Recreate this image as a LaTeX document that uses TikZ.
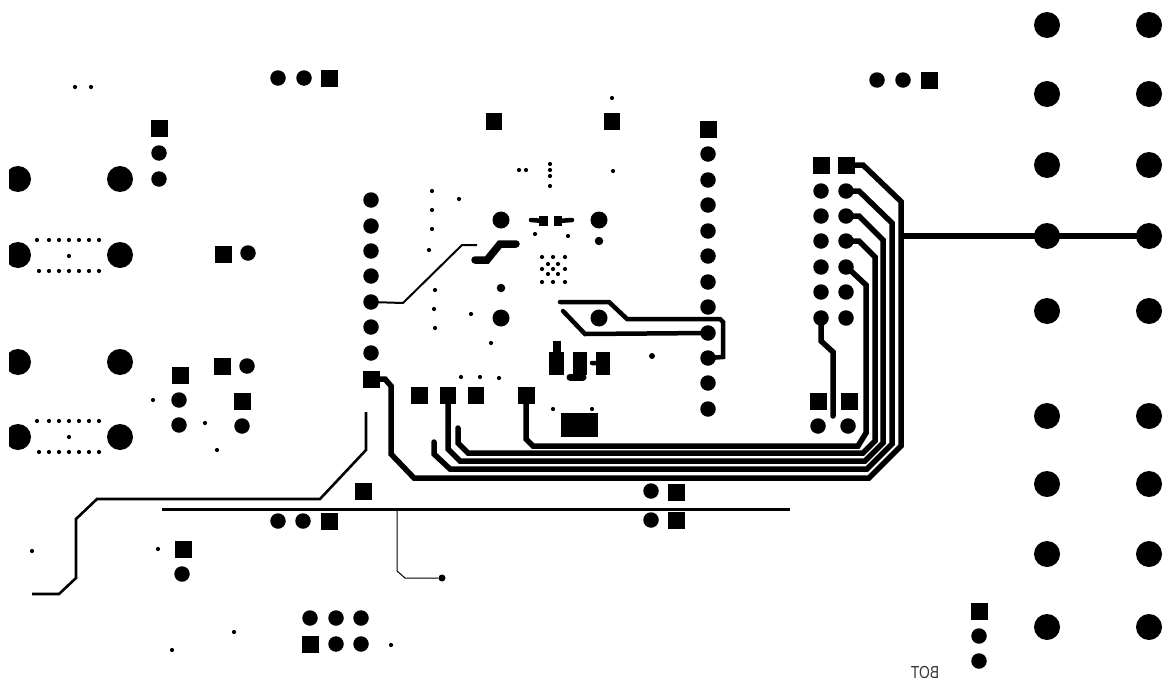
\documentclass[tikz,border=0pt]{standalone}
\usepackage{fontspec}
\setmainfont{Liberation Sans}
\tikzset{
  bigpad/.style={circle,fill=black,inner sep=0pt,minimum size=26pt},
  midpad/.style={circle,fill=black,inner sep=0pt,minimum size=17pt},
  pad/.style={circle,fill=black,inner sep=0pt,minimum size=15.5pt},
  sqpad/.style={rectangle,fill=black,inner sep=0pt,minimum size=17pt},
  hole/.style={circle,fill=black,inner sep=0pt,minimum size=4.2pt},
  blockpad/.style={rectangle,fill=black,inner sep=0pt},
  trace/.style={line width=5.5pt,line join=miter,line cap=round},
}
\begin{document}
\begin{tikzpicture}[x=1pt,y=-1pt]
\useasboundingbox (0,0) rectangle (1165,680);
\clip (9,0) rectangle (1165,680);

\foreach \y [count=\i] in {25,94,165,236,311,416,484,554,627} {
  \node[bigpad] (Ra\i) at (1047,\y) {};
  \node[bigpad] (Rb\i) at (1149,\y) {};
}
\foreach \y [count=\i] in {179,255,362,437} {
  \node[bigpad] (La\i) at (18,\y) {};
  \node[bigpad] (Lb\i) at (120,\y) {};
}

\foreach \y [count=\i] in {200,226,251,276,302,327,353} \node[pad] (CL\i) at (371,\y) {};
\node[sqpad] (CL8) at (371,379) {};
\node[sqpad] (CR0) at (708,129) {};
\foreach \y [count=\i] in {154,180,205,231,256,282,307,333,358,383,409} \node[pad] (CR\i) at (708,\y) {};

\node[sqpad] (Ka) at (846,165) {};
\node[sqpad] (Kb) at (821,165) {};
\foreach \y [count=\i] in {191,216,241,267,292,318} {
  \node[pad] (Ja\i) at (846,\y) {};
  \node[pad] (Jb\i) at (821,\y) {};
}
\node[sqpad] (Ma) at (818,401) {};
\node[sqpad] (Mb) at (849,401) {};
\node[pad] (Mc) at (818,426) {};
\node[pad] (Md) at (848,426) {};

\node[sqpad] (A1) at (329,78) {};
\node[pad] (A2) at (304,78) {};
\node[pad] (A3) at (278,78) {};
\node[sqpad] (B1) at (929,80) {};
\node[pad] (B2) at (903,80) {};
\node[pad] (B3) at (877,80) {};
\node[sqpad] (C1) at (159,128) {};
\node[pad] (C2) at (159,153) {};
\node[pad] (C3) at (159,179) {};
\node[sqpad] (D1) at (223,254) {};
\node[pad] (D2) at (248,253) {};
\node[sqpad] (E1) at (222,366) {};
\node[pad] (E2) at (247,366) {};
\node[sqpad] (F1) at (180,375) {};
\node[pad] (F2) at (179,400) {};
\node[pad] (F3) at (179,425) {};
\node[sqpad] (G1) at (242,401) {};
\node[pad] (G2) at (242,426) {};
\node[sqpad] (H1) at (363,491) {};
\node[sqpad] (I1) at (329,521) {};
\node[pad] (I2) at (303,521) {};
\node[pad] (I3) at (278,521) {};
\node[sqpad] (N1) at (183,549) {};
\node[pad] (N2) at (182,574) {};
\node[sqpad] (O1) at (676,492) {};
\node[pad] (O2) at (651,491) {};
\node[sqpad] (O3) at (676,520) {};
\node[pad] (O4) at (651,520) {};
\node[pad] (P1) at (310,618) {};
\node[pad] (P2) at (336,618) {};
\node[pad] (P3) at (361,618) {};
\node[sqpad] (P4) at (310,644) {};
\node[pad] (P5) at (336,644) {};
\node[pad] (P6) at (361,644) {};
\node[sqpad] (Q1) at (979,611) {};
\node[pad] (Q2) at (979,636) {};
\node[pad] (Q3) at (979,661) {};

\node[sqpad,minimum width=16pt] (T1) at (494,121) {};
\node[sqpad,minimum width=16pt] (T2) at (612,121) {};
\node[sqpad] (S1) at (419,395) {};
\node[sqpad,minimum width=16pt] (S2) at (448,395) {};
\node[sqpad,minimum width=16pt] (S3) at (476,395) {};
\node[sqpad] (S4) at (526,395) {};

\node[midpad] (U1) at (501,220) {};
\node[midpad] (U2) at (599,220) {};
\node[midpad] (U3) at (501,318) {};
\node[midpad] (U4) at (599,318) {};
\node[circle,fill=black,inner sep=0pt,minimum size=8.5pt] (U5) at (599,241) {};
\node[circle,fill=black,inner sep=0pt,minimum size=8.5pt] (U6) at (501,288) {};
\node[circle,fill=black,inner sep=0pt,minimum size=6pt] (U7) at (652,356) {};

\node[blockpad,minimum width=37pt,minimum height=24pt] (W1) at (579.5,425) {};
\node[blockpad,minimum width=9pt,minimum height=10pt] (W2) at (543.5,221) {};
\node[blockpad,minimum width=8pt,minimum height=10pt] (W3) at (558,221) {};
\node[blockpad,minimum width=15pt,minimum height=23pt] (W4) at (556.5,363.5) {};
\node[blockpad,minimum width=8pt,minimum height=12pt] (W5) at (557,347) {};
\node[blockpad,minimum width=14pt,minimum height=23pt] (W6) at (580,363.5) {};
\node[blockpad,minimum width=14pt,minimum height=23pt] (W7) at (603,363.5) {};

\foreach \x/\y [count=\i] in {
  75/87,91/87,612/98,519/170,526/170,550/164,550/170,550/176,550/186,613/171,
  432/191,459/199,432/210,432/229,429/250,535/234,568/236,
  542/257,553/257,565/257,548/264,558/264,542/269,553/269,565/269,548/274,558/274,542/282,553/282,565/282,
  435/290,434/309,435/328,471/314,491/343,461/377,480/377,499/378,553/409,592/409,
  153/400,205/423,217/450,32/551,158/549,172/650,234/632,391/645,
  37/240,49/240,59/240,69/240,79/240,89/240,99/240,39/271,49/271,59/271,69/271,79/271,89/271,99/271,69/256,
  37/421,49/421,59/421,69/421,79/421,89/421,99/421,39/452,49/452,59/452,69/452,79/452,89/452,99/452,69/437
} \node[hole] (v\i) at (\x,\y) {};

\coordinate (tThin) at (477,245);
\coordinate (tFatA) at (475,260);
\coordinate (tFatB) at (516,244);
\coordinate (tLoopA) at (560,302);
\coordinate (tLoopB) at (563,311);
\coordinate (tLeftA) at (366,412);
\coordinate (tLeftB) at (32,594);
\coordinate (tBusA) at (162,509);
\coordinate (tBusB) at (790,509);
\coordinate (tBranch) at (397,509);
\coordinate (tStubA) at (434,442);
\coordinate (tStubB) at (458,428);
\coordinate (tJ) at (833,416);
\coordinate (tX) at (901,236);
\coordinate (tNubA) at (531,220);
\coordinate (tNubB) at (572,220);
\coordinate (tFootA) at (570,377);
\coordinate (tFootB) at (583,377);
\coordinate (tSideA) at (592,363);
\node[circle,fill=black,inner sep=0pt,minimum size=7pt] (Z1) at (442,578) {};

\draw[line width=6.5pt] (tX) -- (Rb4.center);
\draw[trace] (Ka.center) -- (863,165) -- (901,201.5) -- (901,446) -- (869,478) -- (414,478) -- (391,454) -- (391,386) -- (385,379) -- (CL8.center);
\draw[trace] (Ja1.center) -- (859,191) -- (892,223) -- (892,444) -- (867,469) -- (450,469) -- (434,454) -- (tStubA);
\draw[trace] (Ja2.center) -- (859,216) -- (883,240) -- (883,443) -- (865,461) -- (460,461) -- (448,449) -- (S2.center);
\draw[trace] (Ja3.center) -- (859,241) -- (875,257) -- (875,441) -- (863,453) -- (468,453) -- (458,443) -- (tStubB);
\draw[trace] (Ja4.center) -- (850,270) -- (866,285) -- (866,433) -- (858,446) -- (533,446) -- (526,439) -- (S4.center);
\draw[trace] (Jb6.center) -- (821,341) -- (833,352) -- (tJ);
\draw[line width=2pt] (CL5.center) -- (403,303) -- (462,245) -- (tThin);
\draw[line width=7.5pt,line cap=round] (tFatA) -- (487,260) -- (500,244) -- (tFatB);
\draw[line width=4.5pt,line cap=round] (tLoopA) -- (609,302) -- (627,319) -- (720,319) -- (723,322) -- (723,357) -- (CR9.center);
\draw[line width=4.5pt,line cap=round] (tLoopB) -- (585,334) -- (CR8.center);
\draw[line width=2.6pt] (tLeftA) -- (366,450) -- (320,499) -- (97,499) -- (76,519) -- (76,578) -- (59,594) -- (tLeftB);
\draw[line width=3pt] (tBusA) -- (tBusB);
\draw[line width=1pt] (tBranch) -- (397,571) -- (405,578) -- (Z1);
\draw[line width=4.5pt,line cap=round] (tNubA) -- (W2);
\draw[line width=4.5pt,line cap=round] (W3) -- (tNubB);
\draw[line width=7pt,line cap=round] (tFootA) -- (tFootB);
\draw[line width=4.5pt,line cap=round] (tSideA) -- (W7);

\node[font=\fontsize{14.5}{14.5}\selectfont,text=black!80,inner sep=0pt,xscale=-.95,yscale=1.2] (botlabel) at (925,672.5) {BOT};
\end{tikzpicture}
\end{document}
